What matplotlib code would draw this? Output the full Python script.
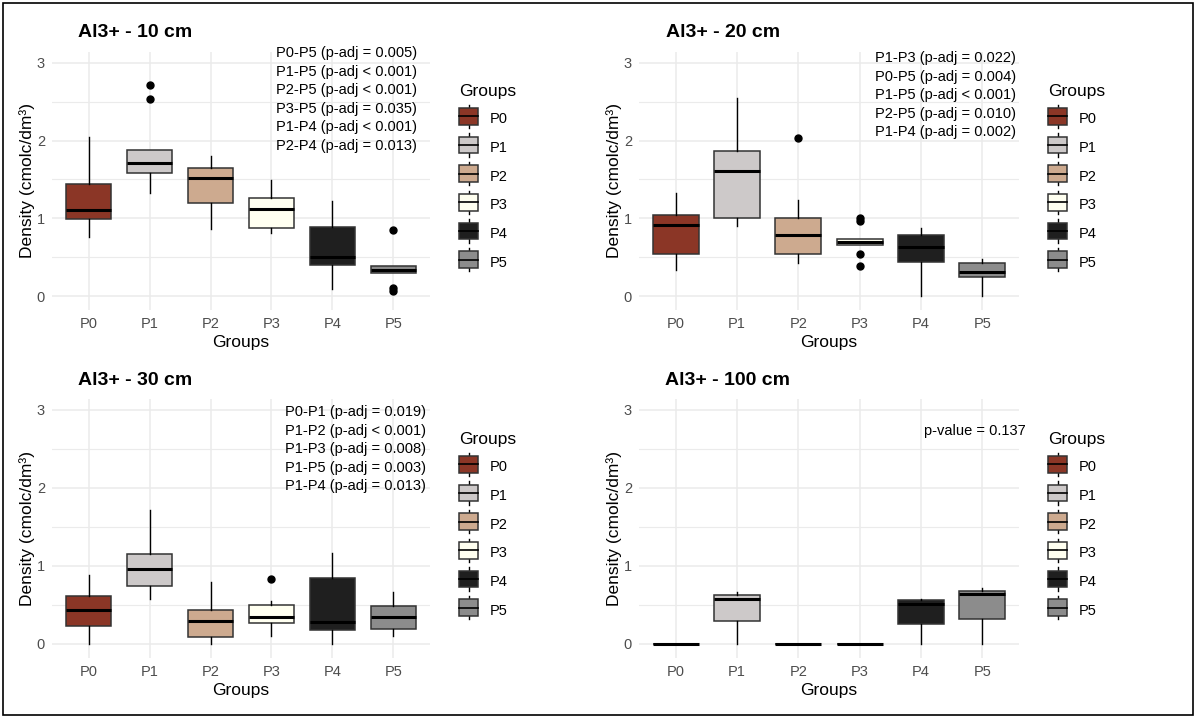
import matplotlib.pyplot as plt
from matplotlib.patches import Patch, Rectangle
from matplotlib.lines import Line2D
from matplotlib.legend_handler import HandlerBase
from matplotlib.ticker import MultipleLocator

plt.rcParams['font.family'] = ['Liberation Sans', 'DejaVu Sans']

groups = ["P0", "P1", "P2", "P3", "P4", "P5"]
colors = ["#8B3626", "#CDC9C9", "#CDAA8F", "#FFFFF0", "#1F1F1F", "#8C8C8C"]

# 10 cm
low_10 = [0.76, 1.33, 0.86, 0.81, 0.09, 0.29]
q1_10 = [0.985, 1.58, 1.20, 0.87, 0.40, 0.29]
med_10 = [1.105, 1.71, 1.52, 1.12, 0.50, 0.33]
q3_10 = [1.44, 1.88, 1.65, 1.26, 0.89, 0.38]
high_10 = [2.05, 1.88, 1.80, 1.49, 1.22, 0.38]
out_10 = [[], [2.72, 2.53], [], [], [], [0.85, 0.10, 0.07]]

# 20 cm
low_20 = [0.33, 0.90, 0.42, 0.66, 0.0, 0.0]
q1_20 = [0.54, 1.01, 0.54, 0.66, 0.44, 0.24]
med_20 = [0.92, 1.61, 0.78, 0.70, 0.63, 0.31]
q3_20 = [1.04, 1.86, 1.00, 0.74, 0.79, 0.43]
high_20 = [1.32, 2.55, 1.23, 0.74, 0.88, 0.48]
out_20 = [[], [], [2.03], [1.00, 0.96, 0.54, 0.39], [], []]

# 30 cm
low_30 = [0.0, 0.57, 0.0, 0.10, 0.0, 0.10]
q1_30 = [0.23, 0.74, 0.09, 0.27, 0.18, 0.19]
med_30 = [0.43, 0.96, 0.29, 0.34, 0.28, 0.35]
q3_30 = [0.62, 1.15, 0.44, 0.50, 0.84, 0.49]
high_30 = [0.885, 1.72, 0.79, 0.55, 1.16, 0.67]
out_30 = [[], [], [], [0.83], [], []]

# 100 cm
low_100 = [0.0, 0.0, 0.0, 0.0, 0.0, 0.0]
q1_100 = [0.0, 0.29, 0.0, 0.0, 0.25, 0.32]
med_100 = [0.0, 0.58, 0.0, 0.0, 0.51, 0.64]
q3_100 = [0.0, 0.63, 0.0, 0.0, 0.56, 0.68]
high_100 = [0.0, 0.66, 0.0, 0.0, 0.58, 0.72]
out_100 = [[], [], [], [], [], []]

titles = ["Al3+ - 10 cm", "Al3+ - 20 cm", "Al3+ - 30 cm", "Al3+ - 100 cm"]
notes = [
    "P0-P5 (p-adj = 0.005)\nP1-P5 (p-adj < 0.001)\nP2-P5 (p-adj < 0.001)\n"
    "P3-P5 (p-adj = 0.035)\nP1-P4 (p-adj < 0.001)\nP2-P4 (p-adj = 0.013)",
    "P1-P3 (p-adj = 0.022)\nP0-P5 (p-adj = 0.004)\nP1-P5 (p-adj < 0.001)\n"
    "P2-P5 (p-adj = 0.010)\nP1-P4 (p-adj = 0.002)",
    "P0-P1 (p-adj = 0.019)\nP1-P2 (p-adj < 0.001)\nP1-P3 (p-adj = 0.008)\n"
    "P1-P5 (p-adj = 0.003)\nP1-P4 (p-adj = 0.013)",
    "p-value = 0.137",
]
panels = [
    (low_10, q1_10, med_10, q3_10, high_10, out_10),
    (low_20, q1_20, med_20, q3_20, high_20, out_20),
    (low_30, q1_30, med_30, q3_30, high_30, out_30),
    (low_100, q1_100, med_100, q3_100, high_100, out_100),
]

W, H = 1196, 717


class BoxKey(HandlerBase):
    def create_artists(self, legend, orig_handle, xd, yd, width, height, fontsize, trans):
        x0, y0 = -xd, -yd
        h = height + yd
        cx, cy = x0 + width / 2, y0 + h / 2
        box = Rectangle((x0, y0 + 0.14 * h), width, 0.72 * h,
                        facecolor=orig_handle.get_facecolor(), edgecolor="#333333",
                        lw=1.1, transform=trans)
        w1 = Line2D([cx, cx], [y0, y0 + 0.14 * h], color="black", lw=1, transform=trans)
        w2 = Line2D([cx, cx], [y0 + 0.86 * h, y0 + h], color="black", lw=1, transform=trans)
        m = Line2D([x0, x0 + width], [cy, cy], color="black", lw=1.2, transform=trans)
        return [w1, w2, box, m]


fig = plt.figure(figsize=(W / 100, H / 100), dpi=100)

# axes boxes in pixels: left, top, right, bottom
boxes = [(52, 52, 430, 310), (639, 52, 1019, 310), (52, 399, 430, 658), (639, 399, 1019, 658)]
title_pos = [(78, 37), (666, 37), (78, 385), (665, 385)]
note_pos = [(417, 46), (1016, 51), (426, 405), (1026, 424)]
legend_pos = [(452, 77), (1041, 77), (452, 425), (1041, 425)]

for i in range(4):
    l, t, r, b = boxes[i]
    ax = fig.add_axes([l / W, 1 - b / H, (r - l) / W, (b - t) / H])
    low, q1, med, q3, high, out = panels[i]
    stats = []
    for j in range(len(groups)):
        stats.append(dict(whislo=low[j], q1=q1[j], med=med[j], q3=q3[j], whishi=high[j],
                          fliers=out[j], label=groups[j]))
    bp = ax.bxp(stats, positions=range(len(groups)), widths=0.75, patch_artist=True,
                showcaps=False,
                boxprops=dict(edgecolor="#333333", linewidth=1.1),
                medianprops=dict(color="black", linewidth=2.2, solid_capstyle="butt"),
                whiskerprops=dict(color="black", linewidth=1.0),
                flierprops=dict(marker="o", markerfacecolor="black", markeredgecolor="black",
                                markersize=5))
    for patch, c in zip(bp["boxes"], colors):
        patch.set_facecolor(c)

    ax.set_xlim(-0.6, 5.6)
    ax.set_ylim(-0.18, 3.14)
    ax.yaxis.set_major_locator(MultipleLocator(1))
    ax.yaxis.set_minor_locator(MultipleLocator(0.5))
    ax.grid(True, which="major", color="#EBEBEB", linewidth=1.1)
    ax.grid(True, which="minor", axis="y", color="#EBEBEB", linewidth=0.8)
    ax.set_axisbelow(True)
    for s in ax.spines.values():
        s.set_visible(False)
    ax.tick_params(which="both", length=0, labelsize=10.5, labelcolor="#4D4D4D", pad=5)
    ax.set_xlabel("Groups", fontsize=12.5, labelpad=3)
    ax.set_ylabel("Density (cmolc/dm³)", fontsize=12.5, labelpad=1)

    tx, ty = title_pos[i]
    fig.text(tx / W, 1 - ty / H, titles[i], fontsize=14, fontweight="bold", va="baseline")
    nx, ny = note_pos[i]
    fig.text(nx / W, 1 - ny / H, notes[i], fontsize=10.5, ha="right", va="top",
             linespacing=1.42)

    handles = [Patch(facecolor=c, label=g) for g, c in zip(groups, colors)]
    lx, ly = legend_pos[i]
    leg = ax.legend(handles=handles, title="Groups", loc="upper left",
                    bbox_to_anchor=(lx / W, 1 - ly / H), bbox_transform=fig.transFigure,
                    frameon=False, fontsize=10.5, title_fontsize=12.5, borderpad=0,
                    handler_map={Patch: BoxKey()}, handlelength=1.3, handleheight=1.6,
                    labelspacing=0.68, handletextpad=0.8)
    leg._legend_box.align = "left"

fig.add_artist(Rectangle((3 / W, 2 / H), 1190 / W, 712 / H, transform=fig.transFigure,
                         fill=False, edgecolor="black", linewidth=1.2))

fig.savefig("out.png", dpi=100)
